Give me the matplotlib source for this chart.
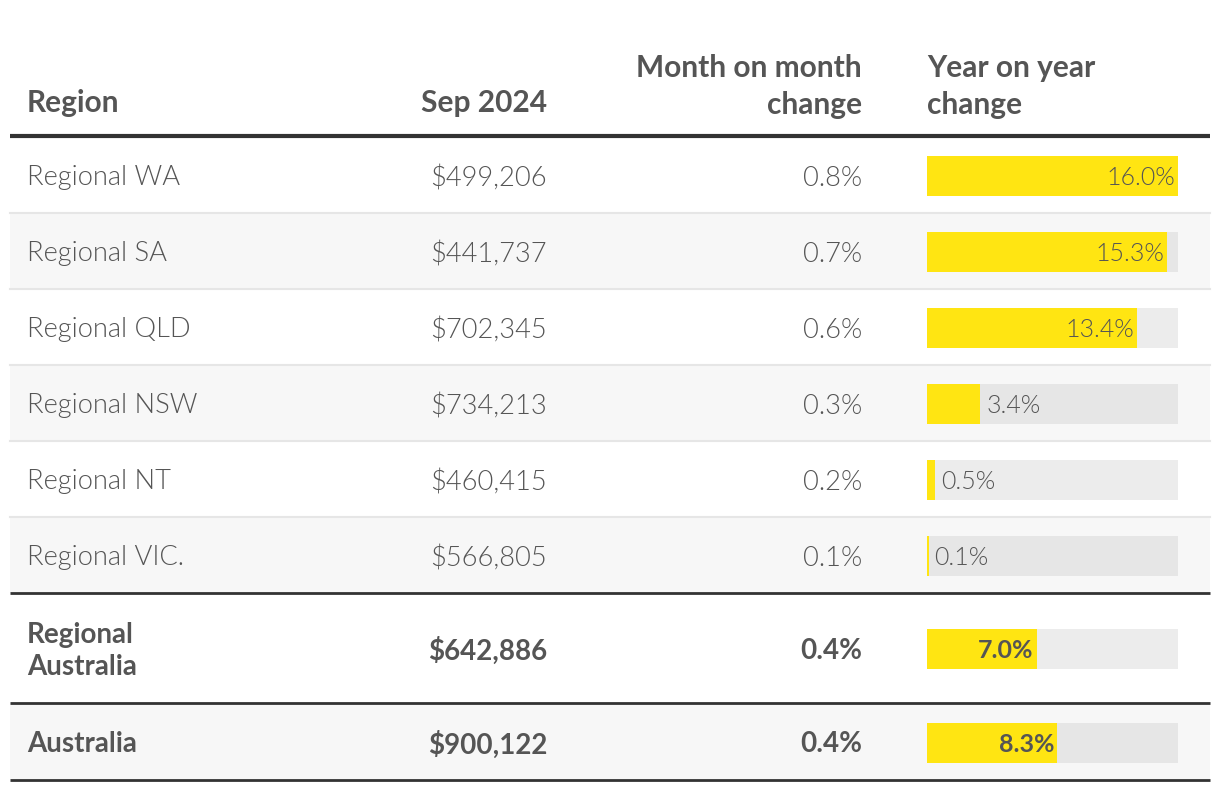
import matplotlib.pyplot as plt

# data
regions = ['Regional WA', 'Regional SA', 'Regional QLD', 'Regional NSW',
           'Regional NT', 'Regional VIC.', 'Regional\nAustralia', 'Australia']
values = ['$499,206', '$441,737', '$702,345', '$734,213',
          '$460,415', '$566,805', '$642,886', '$900,122']
mom = [0.8, 0.7, 0.6, 0.3, 0.2, 0.1, 0.4, 0.4]
yoy = [16.0, 15.3, 13.4, 3.4, 0.5, 0.1, 7.0, 8.3]
bold_rows = [6, 7]
headers = ['Region', 'Sep 2024', 'Month on month\nchange', 'Year on year\nchange']

W, H = 1220, 792
TXT = '#555555'
YEL = '#ffe512'
LINE = '#333333'

plt.rcParams['font.family'] = ['Lato', 'DejaVu Sans']

fig = plt.figure(figsize=(W / 100, H / 100), dpi=100)
ax = fig.add_axes([0, 0, 1, 1])
ax.set_xlim(0, W)
ax.set_ylim(H, 0)
ax.axis('off')

# row boundaries in pixels
x0, x1 = 10, 1210
edges = [137, 213, 289, 365, 441, 517, 593, 703, 780]
gray_rows = [1, 3, 5, 7]

for i in range(len(regions)):
    top, bot = edges[i], edges[i + 1]
    if i in gray_rows:
        ax.fill_between([x0, x1], top, bot, color='#f7f7f7', lw=0, zorder=0)
    if i < 5:
        ax.plot([x0, x1], [bot, bot], color='#e6e6e6', lw=1.5, zorder=1)

# heavy rules
for y in [edges[0] - 1.5, edges[6], edges[7], edges[8]]:
    lw = 3 if y < 140 else 2
    ax.plot([x0, x1], [y, y], color=LINE, lw=lw, zorder=3, solid_capstyle='butt')

# headers
HFS = 21.5
hy = 103
ax.text(27, hy, headers[0], ha='left', va='center', fontsize=HFS,
        fontweight=700, color=TXT)
ax.text(547, hy, headers[1], ha='right', va='center', fontsize=HFS,
        fontweight=700, color=TXT)
ax.text(862, hy + 16, headers[2], ha='right', va='bottom', fontsize=HFS,
        fontweight=700, color=TXT, linespacing=1.38)
ax.text(927, hy + 16, headers[3], ha='left', va='bottom', fontsize=HFS,
        fontweight=700, color=TXT, linespacing=1.38)

centers = [(edges[i] + edges[i + 1]) / 2 for i in range(len(regions))]

for i, (r, v, m) in enumerate(zip(regions, values, mom)):
    b = i in bold_rows
    fw = 700 if b else 300
    fs = 20 if b else 19.6
    cy = centers[i] + 3
    ax.text(27, cy, r, ha='left', va='center', fontsize=fs, fontweight=fw,
            color=TXT, linespacing=1.3)
    ax.text(547, cy, v, ha='right', va='center', fontsize=fs, fontweight=fw,
            color=TXT)
    ax.text(862, cy, f'{m:.1f}%', ha='right', va='center', fontsize=fs,
            fontweight=fw, color=TXT)

# year on year bars
bx = fig.add_axes([927 / W, 0, (1178 - 927) / W, 1])
bx.set_xlim(0, max(yoy))
bx.set_ylim(H, 0)
bx.axis('off')
bx.patch.set_alpha(0)

for i, val in enumerate(yoy):
    cy = centers[i] + 1
    bg = '#e6e6e6' if i in gray_rows else '#ececec'
    bx.barh(cy, max(yoy), height=40, color=bg, lw=0, zorder=1)
    bx.barh(cy, val, height=40, color=YEL, lw=0, zorder=2)
    b = i in bold_rows
    fw = 700 if b else 300
    if val > 5:
        bx.annotate(f'{val:.1f}%', (val, cy + 2), xytext=(-3, 0),
                    textcoords='offset pixels', ha='right', va='center',
                    fontsize=18, fontweight=fw, color=TXT, zorder=3)
    else:
        bx.annotate(f'{val:.1f}%', (val, cy + 2), xytext=(6, 0),
                    textcoords='offset pixels', ha='left', va='center',
                    fontsize=18, fontweight=fw, color=TXT, zorder=3)

fig.savefig('out.png', dpi=100, facecolor='white')
